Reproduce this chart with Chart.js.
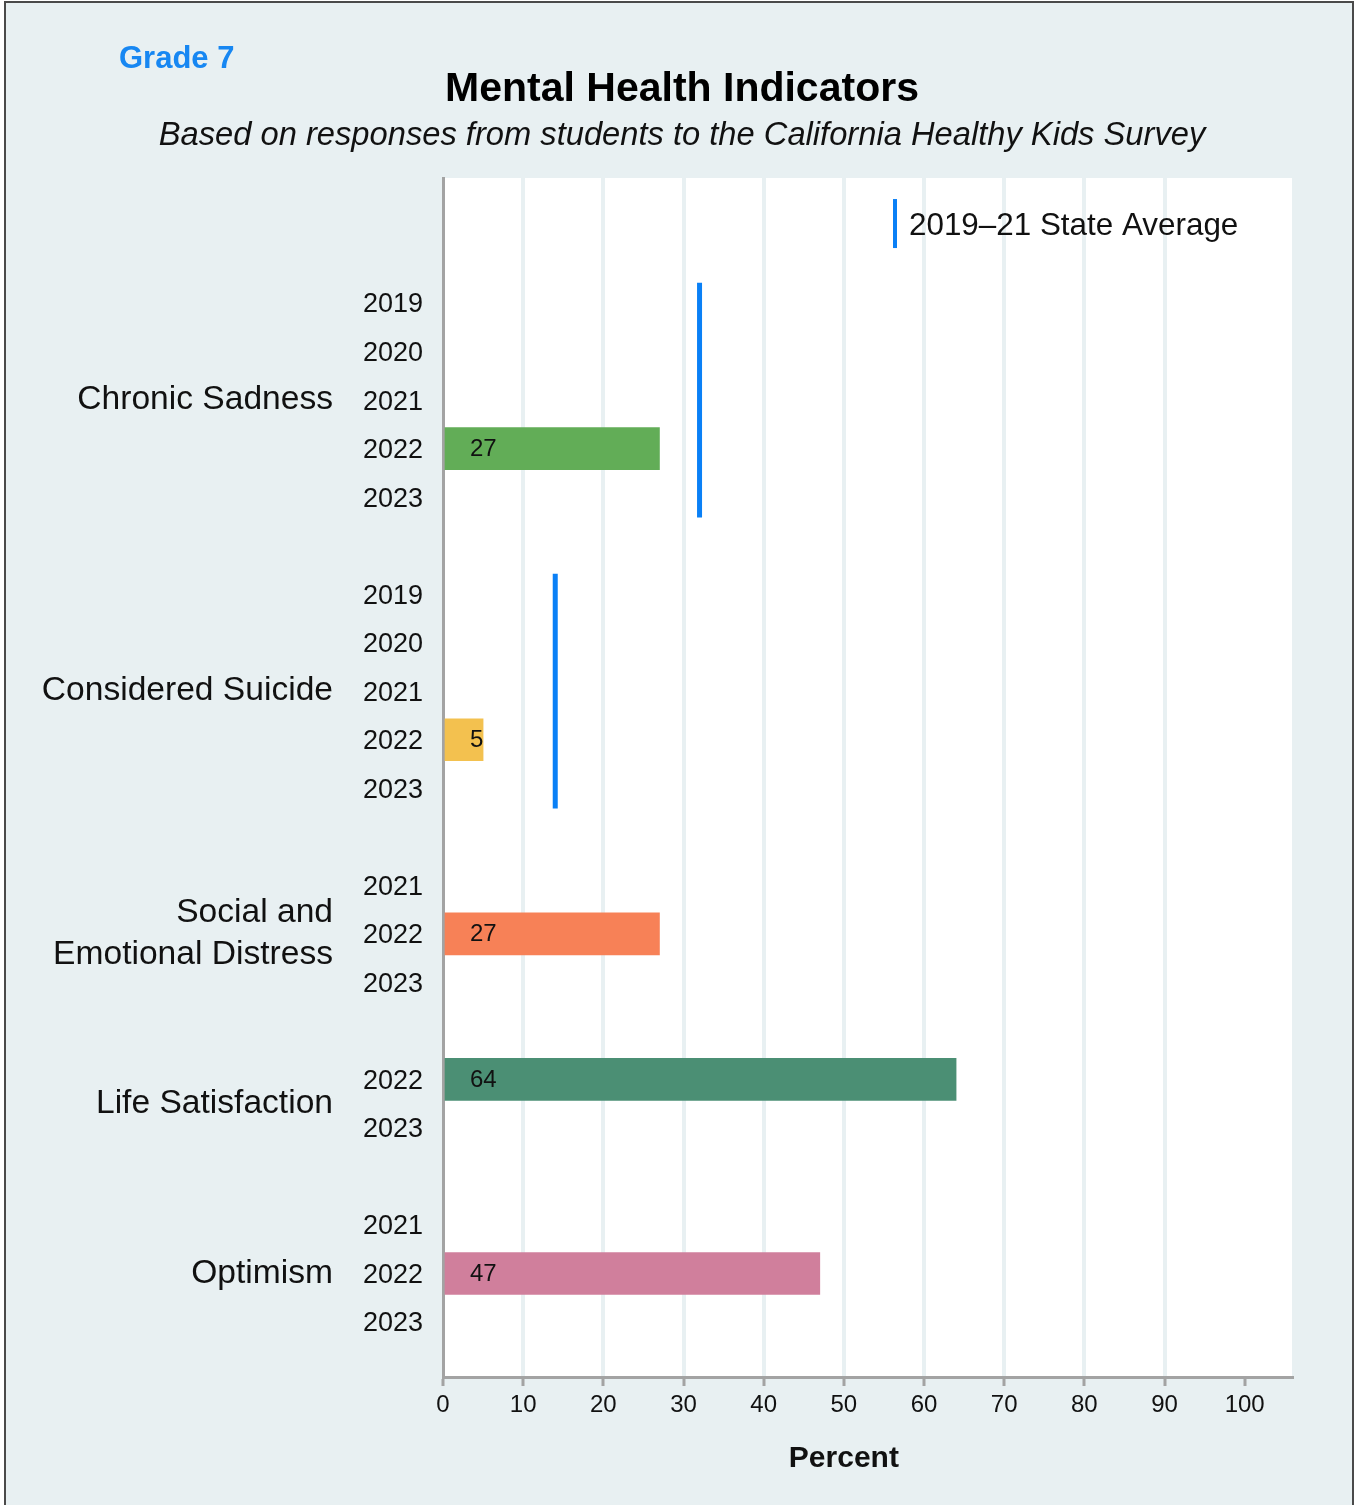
<!DOCTYPE html>
<html lang="en">
<head>
<meta charset="UTF-8">
<title>Mental Health Indicators</title>
<script src="https://cdn.jsdelivr.net/npm/chart.js"></script>
<style>
  html, body { margin: 0; padding: 0; background: #fff; }
</style>
</head>
<body>
<canvas id="mhChart" width="1356" height="1505"></canvas>
<script>
// values
const gradeLabel = 'Grade 7';
const indicators = ['Chronic Sadness', 'Considered Suicide', ['Social and', 'Emotional Distress'], 'Life Satisfaction', 'Optimism'];
const surveyYears = [
  ['2019', '2020', '2021', '2022', '2023'],
  ['2019', '2020', '2021', '2022', '2023'],
  ['2021', '2022', '2023'],
  ['2022', '2023'],
  ['2021', '2022', '2023']
];
const percentValues = [
  [null, null, null, 27, null],
  [null, null, null, 5, null],
  [null, 27, null],
  [64, null],
  [null, 47, null]
];
const stateAverages = [32, 14, null, null, null];
const percentTicks = [0, 10, 20, 30, 40, 50, 60, 70, 80, 90, 100];

const barColors = ['#62ad57', '#f3c14f', '#f78157', '#4b8f74', '#d07f9c'];
const avgColor = '#0a80f6';
const axisGray = '#a3a3a3';
const gridColor = '#e8f0f2';
const font = "'Liberation Sans', Arial, sans-serif";

Chart.defaults.font.family = font;
Chart.defaults.color = '#111';

// one row per year, a blank row between indicators
const rowLabels = [];
const groupRows = [];
surveyYears.forEach((years, g) => {
  if (g > 0) rowLabels.push('');
  const start = rowLabels.length;
  years.forEach(y => rowLabels.push(y));
  groupRows.push([start, rowLabels.length - 1]);
});

const barPoints = [];
const barFill = [];
percentValues.forEach((vals, g) => {
  vals.forEach((v, i) => {
    if (v !== null) {
      barPoints.push({ x: v, y: groupRows[g][0] + i });
      barFill.push(barColors[g]);
    }
  });
});

const avgSets = [];
stateAverages.forEach((v, g) => {
  if (v === null) return;
  avgSets.push({
    type: 'line',
    label: '2019\u201321 State Average',
    data: [{ x: v, y: groupRows[g][0] - 0.42 }, { x: v, y: groupRows[g][1] + 0.42 }],
    borderColor: avgColor,
    borderWidth: 5,
    borderCapStyle: 'butt',
    pointRadius: 0,
    order: 0
  });
});

const decorPlugin = {
  id: 'decor',
  beforeDraw(chart) {
    const { ctx, chartArea } = chart;
    ctx.save();
    ctx.fillStyle = '#ffffff';
    ctx.fillRect(0, 0, chart.width, chart.height);
    ctx.fillStyle = '#e8f0f2';
    ctx.fillRect(5, 2, 1348, 1510);
    ctx.strokeStyle = '#4a4a4a';
    ctx.lineWidth = 2;
    ctx.strokeRect(5, 2, 1348, 1510);
    ctx.fillStyle = '#ffffff';
    ctx.fillRect(chartArea.left, chartArea.top, chartArea.right - chartArea.left, chartArea.bottom - chartArea.top);
    ctx.restore();
  },
  afterDatasetsDraw(chart) {
    const { ctx, chartArea } = chart;
    const meta = chart.getDatasetMeta(0);
    ctx.save();
    ctx.font = '24px ' + font;
    ctx.fillStyle = '#111';
    ctx.textAlign = 'left';
    ctx.textBaseline = 'middle';
    meta.data.forEach((bar, i) => {
      ctx.fillText(String(barPoints[i].x), chartArea.left + 27, bar.y + 1);
    });
    ctx.restore();
  },
  afterDraw(chart) {
    const { ctx, chartArea } = chart;
    const yScale = chart.scales.y;
    const xScale = chart.scales.x;
    ctx.save();

    // grade tag
    ctx.font = 'bold 31px ' + font;
    ctx.fillStyle = '#1787f2';
    ctx.textAlign = 'left';
    ctx.textBaseline = 'alphabetic';
    ctx.fillText(gradeLabel, 119, 68);

    // indicator names beside the year ticks
    ctx.font = '33.6px ' + font;
    ctx.fillStyle = '#111';
    ctx.textAlign = 'right';
    ctx.textBaseline = 'middle';
    indicators.forEach((name, g) => {
      const mid = yScale.getPixelForValue((groupRows[g][0] + groupRows[g][1]) / 2);
      const lines = Array.isArray(name) ? name : [name];
      lines.forEach((line, k) => {
        ctx.fillText(line, 333, mid + (k - (lines.length - 1) / 2) * 42);
      });
    });

    // legend inside the plot
    const lx = chartArea.right - 397;
    const ly = chartArea.top + 46;
    ctx.strokeStyle = avgColor;
    ctx.lineWidth = 4;
    ctx.beginPath();
    ctx.moveTo(lx, ly - 25);
    ctx.lineTo(lx, ly + 24);
    ctx.stroke();
    ctx.font = '31.4px ' + font;
    ctx.textAlign = 'left';
    ctx.fillText('2019\u201321 State Average', lx + 14, ly + 2);

    // axis title centred on 0-100
    ctx.font = 'bold 30px ' + font;
    ctx.textAlign = 'center';
    ctx.fillText('Percent', xScale.getPixelForValue(50), 1459);
    ctx.restore();
  }
};

new Chart(document.getElementById('mhChart'), {
  type: 'bar',
  data: {
    datasets: [
      {
        label: 'Percent',
        data: barPoints,
        backgroundColor: barFill,
        borderWidth: 0,
        barThickness: 42,
        order: 1
      },
      ...avgSets
    ]
  },
  options: {
    indexAxis: 'y',
    responsive: false,
    animation: false,
    layout: { padding: { left: 72, right: 64, top: 0, bottom: 0 } },
    plugins: {
      legend: { display: false },
      tooltip: { enabled: false },
      title: {
        display: true,
        text: 'Mental Health Indicators',
        color: '#000',
        font: { size: 41, weight: 'bold' },
        padding: { top: 65, bottom: 0 }
      },
      subtitle: {
        display: true,
        text: 'Based on responses from students to the California Healthy Kids Survey',
        color: '#111',
        font: { size: 32.7, style: 'italic' },
        padding: { top: 1.7, bottom: 22.9 }
      }
    },
    scales: {
      x: {
        type: 'linear',
        position: 'bottom',
        min: 0,
        max: 105.9,
        afterBuildTicks: s => { s.ticks = percentTicks.map(v => ({ value: v })); },
        afterFit: s => { s.height = 128; },
        grid: {
          color: c => (c.tick && c.tick.value > 0 && c.tick.value < 100) ? gridColor : 'rgba(0,0,0,0)',
          lineWidth: 4,
          tickColor: axisGray,
          tickWidth: 3,
          tickLength: 9
        },
        border: { color: axisGray, width: 3 },
        ticks: { font: { size: 24 }, color: '#111', padding: 5, maxRotation: 0, autoSkip: false }
      },
      y: {
        type: 'linear',
        reverse: true,
        offset: false,
        min: -2.576,
        max: 22.134,
        afterBuildTicks: s => {
          s.ticks = rowLabels.map((l, i) => ({ value: i })).filter(t => rowLabels[t.value] !== '');
        },
        afterFit: s => { s.width = 443 - 72; },
        grid: { display: false, drawTicks: false, offset: false },
        border: { color: axisGray, width: 3 },
        ticks: {
          font: { size: 27 },
          color: '#111',
          padding: 20,
          labelOffset: 2,
          autoSkip: false,
          callback: v => rowLabels[v]
        }
      }
    }
  },
  plugins: [decorPlugin]
});
</script>
</body>
</html>
